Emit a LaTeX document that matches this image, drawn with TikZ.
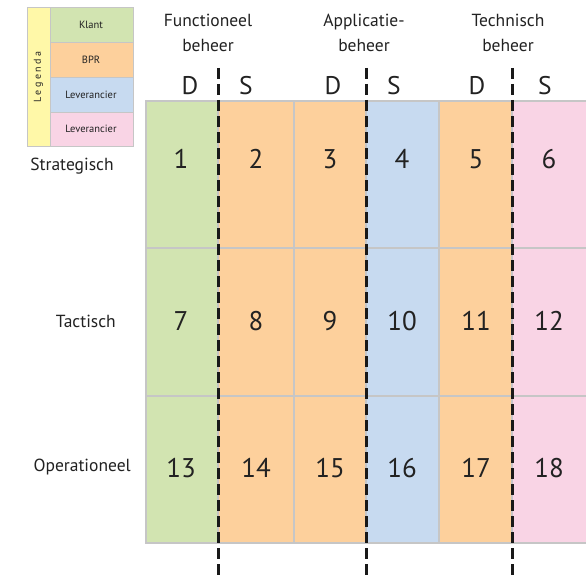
\documentclass[tikz,border=0pt]{standalone}
\usepackage{fontspec}
\setmainfont{PT Sans}
\definecolor{klant}{HTML}{D2E4B1}
\definecolor{bpr}{HTML}{FDD09C}
\definecolor{levblauw}{HTML}{C7DAF0}
\definecolor{levroze}{HTML}{F9D4E5}
\definecolor{geel}{HTML}{FFF8A8}
\definecolor{rand}{HTML}{C6C6C6}
\definecolor{tekst}{HTML}{222222}
\begin{document}
\begin{tikzpicture}[x=1pt,y=-1pt,
  cell/.style={draw=rand,line width=1.3pt},
  lcell/.style={draw=rand,line width=0.9pt},
  num/.style={text=tekst,font=\fontsize{27}{30}\selectfont,inner sep=0pt},
  ds/.style={text=tekst,font=\fontsize{25.5}{28}\selectfont,inner sep=0pt},
  head/.style={text=tekst,font=\fontsize{17.5}{25.5}\selectfont,align=center,inner sep=0pt},
  rowlab/.style={text=tekst,font=\fontsize{17.5}{22}\selectfont,inner sep=0pt},
  leg/.style={text=tekst,font=\fontsize{10.5}{12}\selectfont,inner sep=0pt},
  divider/.style={line width=3pt,draw=black!90,dash pattern=on 11pt off 5pt}]
\useasboundingbox (0,0) rectangle (586,577);
\fill[white] (0,0) rectangle (586,577);

% legend
\filldraw[lcell,fill=geel] (27,7) rectangle (50,146);
\filldraw[lcell,fill=klant] (50,7) rectangle (133,42);
\filldraw[lcell,fill=bpr] (50,42) rectangle (133,77);
\filldraw[lcell,fill=levblauw] (50,77) rectangle (133,112);
\filldraw[lcell,fill=levroze] (50,112) rectangle (133,146);
\node[leg,rotate=90,font=\fontsize{10}{12}\selectfont\addfontfeature{LetterSpace=25}] (lgd) at (38.5,77) {Legenda};
\node[leg] (lk) at (91,25) {Klant};
\node[leg] (lb) at (91,60) {BPR};
\node[leg] (l1) at (91,95) {Leverancier};
\node[leg] (l2) at (91,129) {Leverancier};

% column headers
\node[head] (hf) at (208,33) {Functioneel\\beheer};
\node[head] (ha) at (364,33) {Applicatie-\\beheer};
\node[head] (ht) at (508,33) {Technisch\\beheer};
\foreach \x/\t/\n in {190/D/d1,246/S/s1,333/D/d2,394/S/s2,477/D/d3,545/S/s3}
  \node[ds] (\n) at (\x,86) {\t};

% grid of cells
\foreach \xa/\xb/\c [count=\i] in {146/218/klant,218/294/bpr,294/366/bpr,366/439/levblauw,439/512/bpr,512/588/levroze}{
  \foreach \ya/\yb [count=\j] in {101/248,248/396,396/543}{
    \filldraw[cell,fill=\c] (\xa,\ya) rectangle (\xb,\yb);
  }
}

% cell numbers
\foreach \x [count=\i] in {181,256,330,402,476,549}{
  \pgfmathtruncatemacro{\a}{\i}
  \pgfmathtruncatemacro{\b}{\i+6}
  \pgfmathtruncatemacro{\c}{\i+12}
  \node[num] (n\a) at (\x,159) {\a};
  \node[num] (n\b) at (\x,321) {\b};
  \node[num] (n\c) at (\x,468) {\c};
}

% row labels
\node[rowlab] (rs) at (72,166) {Strategisch};
\node[rowlab,anchor=east] (rt) at (116,321) {Tactisch};
\node[rowlab,anchor=east] (ro) at (131,467) {Operationeel};

% D/S dividers
\foreach \x/\n in {218/a,366/b,512/c}{
  \coordinate (top\n) at (\x,68);
  \coordinate (bot\n) at (\x,577);
  \draw[divider] (top\n) -- (bot\n);
}
\end{tikzpicture}
\end{document}
